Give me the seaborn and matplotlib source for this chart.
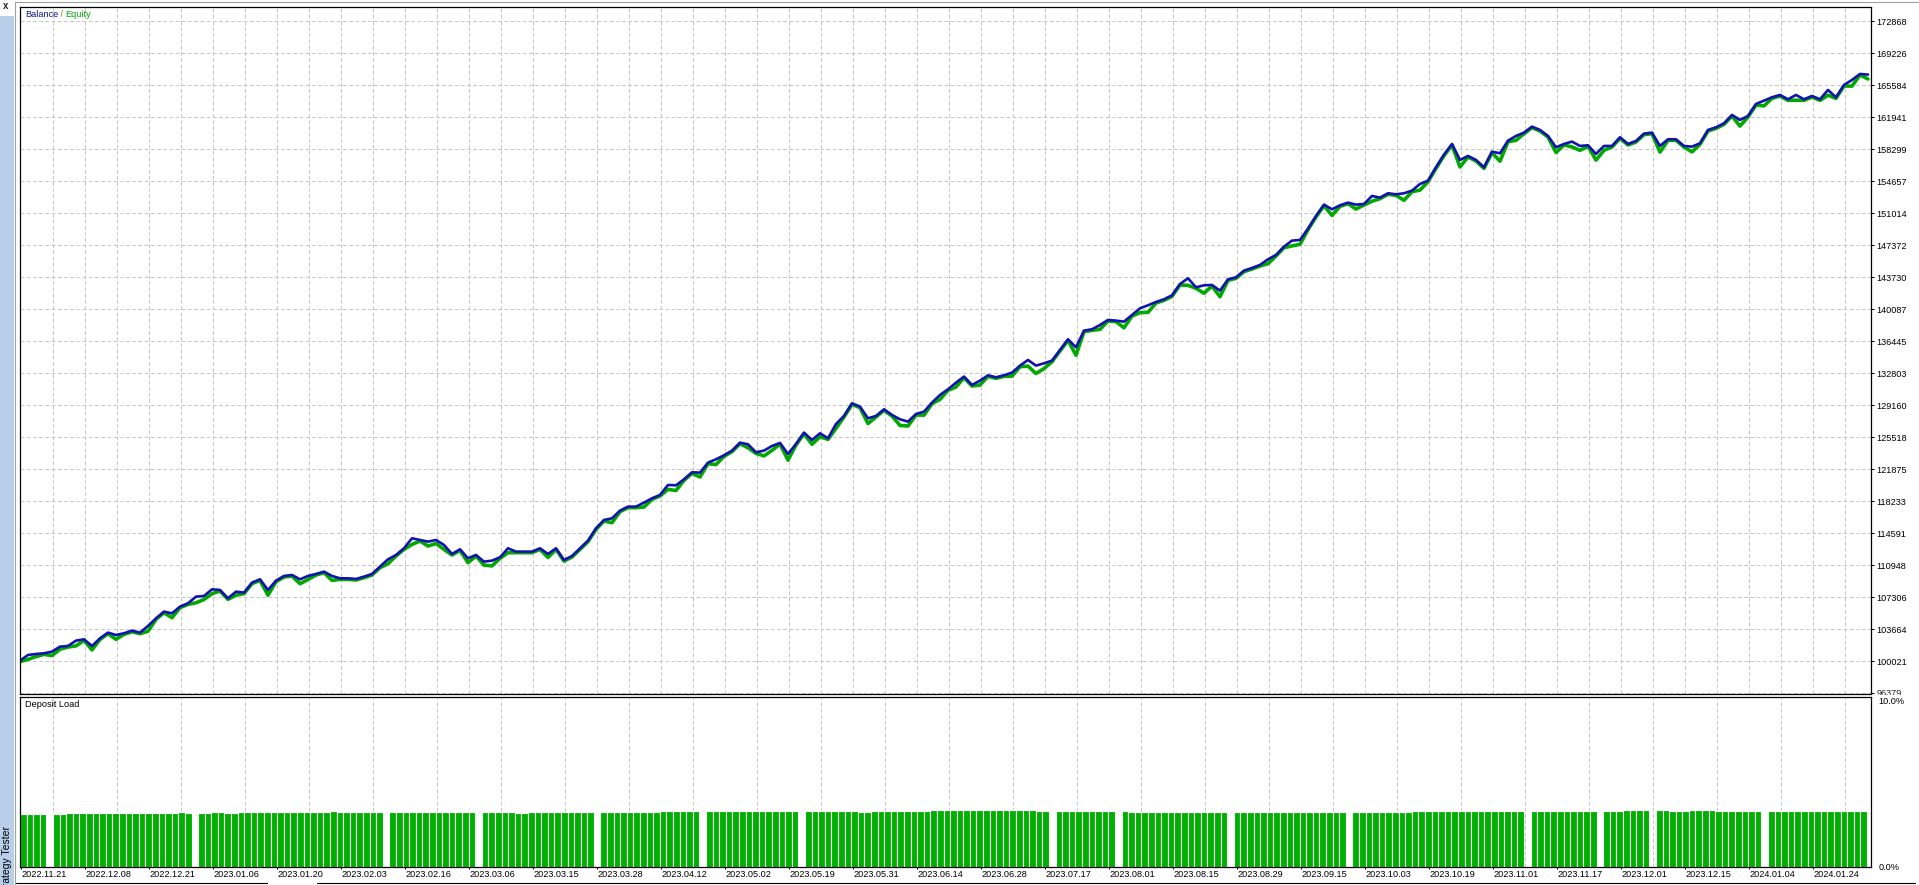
import numpy as np
import matplotlib
matplotlib.use("Agg")
import matplotlib.pyplot as plt
import seaborn as sns
from matplotlib.patches import Rectangle
from matplotlib.lines import Line2D
from matplotlib.transforms import Bbox

#### data

balance = [
    100097, 100742, 100856, 100932, 101121, 101690, 101766, 102373, 102525, 101766,
    102639, 103284, 103018, 103208, 103511, 103284, 104043, 104915, 105674, 105484,
    106243, 106623, 107381, 107457, 108216, 108140, 107192, 107950, 107837, 108975,
    109354, 108140, 109202, 109734, 109847, 109354, 109734, 109961, 110227, 109734,
    109468, 109468, 109392, 109658, 109962, 110796, 111631, 112124, 112883, 114021,
    113831, 113642, 113831, 113262, 112238, 112769, 111745, 112124, 111365, 111479,
    111859, 112883, 112504, 112504, 112504, 112883, 112238, 112883, 111555, 112010,
    112883, 113756, 115159, 116108, 116298, 117170, 117625, 117625, 118081,
    118574, 118954, 120092, 120054, 120737, 121534, 121496, 122634, 123013, 123469,
    124000, 124910, 124721, 123810, 124000, 124531, 124873, 123620, 124759, 126049,
    125214, 125973, 125404, 127035, 127946, 129387, 129008, 127680, 127946, 128704,
    128059, 127566, 127301, 128173, 128439, 129463, 130336, 130981, 131740,
    132423, 131474, 131968, 132575, 132347, 132575, 132878, 133675, 134320, 133675,
    133940, 134244, 135458, 136672, 135762, 137659, 137810, 138304, 138873, 138797,
    138683, 139442, 140201, 140542, 140921, 141225, 141680, 142970, 143615, 142591,
    142818, 142856, 142211, 143501, 143729, 144488, 144791,
    145133, 145778, 146271, 147220, 147903, 147979, 149268, 150710, 152000, 151469,
    151924, 152228, 152000, 152076, 152987, 152797, 153290, 153176, 153290, 153594,
    154352, 154732, 156249, 157691, 158905, 157084, 157539, 157084, 156249, 158033,
    157843, 159285, 159816, 160195, 160878, 160499, 159816, 158526, 158905, 159171,
    158679, 158755, 157768, 158679, 158679, 159665, 158906, 159248, 160082, 160196,
    158679, 159437, 159437, 158679, 158603, 158982, 160500, 160803, 161259, 162207,
    161638, 162093, 163459, 163838, 164218, 164483, 163990, 164483, 163990, 164370,
    163990, 165053, 164218, 165622, 166191, 166874, 166798,
]

# how far equity sits under balance at each step
equity_gap = [
    120, 500, 300, 120, 450, 300, 120, 600, 120, 450, 120, 120, 500, 120, 120, 120, 600, 120, 120, 500,
    120, 120, 700, 400, 500, 120, 120, 400, 120, 120, 120, 600, 120, 120, 120, 500, 400, 120, 120, 500,
    120, 120, 120, 120, 120, 120, 500, 120, 120, 700, 120, 500, 400, 500, 120, 120, 500, 120, 400, 600,
    120, 500, 120, 120, 120, 120, 400, 120, 120, 120, 120, 120, 120, 120, 500, 120, 120, 120, 500, 120,
    120, 500, 600, 120, 120, 500, 120, 600, 120, 120, 120, 400, 120, 600, 500, 120, 700, 120, 120, 500,
    400, 120, 500, 120, 120, 120, 600, 120, 120, 120, 700, 500, 120, 400, 120, 500, 120, 500, 120, 120,
    500, 120, 120, 120, 400, 120, 700, 900, 600, 120, 120, 120, 900, 120, 120, 500, 120, 120, 700, 120,
    500, 800, 120, 120, 120, 120, 800, 120, 900, 120, 700, 120, 120, 120, 120, 120, 500, 120, 120, 600,
    500, 120, 120, 120, 700, 120, 120, 500, 120, 600, 120, 120, 120, 800, 120, 700, 120, 120, 120, 120,
    800, 120, 120, 120, 120, 900, 120, 500, 120, 120, 120, 120, 600, 120, 600, 500, 120, 700, 500, 120,
    120, 120, 120, 120, 120, 700, 120, 120, 120, 600, 120, 120, 120, 120, 120, 700, 120, 120, 600, 120,
    120, 120, 600, 120, 120, 120, 600, 120, 120, 700, 120, 500,
]

# deposit load in percent, one value per bar (0 = no position)
deposit_load = [
    3.10, 3.08, 3.12, 3.12, 0, 3.12, 3.11, 3.13, 3.14, 3.15, 3.16, 3.15, 3.17, 3.15, 3.15, 3.16, 3.18, 3.17, 3.18, 3.18,
    3.18, 3.18, 3.18, 3.18, 3.19, 3.18, 0, 3.18, 3.18, 3.20, 3.20, 3.15, 3.18, 3.20, 3.21, 3.21, 3.20, 3.21, 3.21, 3.22,
    3.22, 3.21, 3.22, 3.22, 3.22, 3.23, 3.22, 3.26, 3.24, 3.22, 3.22, 3.22, 3.20, 3.20, 3.20, 0, 3.20, 3.20, 3.20, 3.19,
    3.20, 3.20, 3.20, 3.20, 3.20, 3.20, 3.20, 3.20, 3.20, 0, 3.20, 3.20, 3.20, 3.20, 3.20, 3.18, 3.18, 3.20, 3.20, 3.20,
    3.20, 3.20, 3.21, 3.22, 3.22, 3.22, 3.20, 0, 3.22, 3.22, 3.22, 3.24, 3.24, 3.23, 3.23, 3.22, 3.22, 3.25, 3.25, 3.25,
    3.25, 3.25, 3.25, 0, 3.25, 3.25, 3.26, 3.26, 3.26, 3.28, 3.28, 3.27, 3.27, 3.26, 3.25, 3.25, 3.25, 3.25, 0, 3.25,
    3.25, 3.25, 3.26, 3.26, 3.26, 3.25, 3.25, 3.24, 3.24, 3.25, 3.25, 3.25, 3.25, 3.28, 3.28, 3.30, 3.30, 3.30, 3.32, 3.32,
    3.33, 3.34, 3.34, 3.36, 3.36, 3.36, 3.35, 3.35, 3.35, 3.34, 3.34, 3.33, 3.32, 3.32, 3.30, 3.30, 0, 3.28, 3.28, 3.27,
    3.27, 3.26, 3.26, 3.25, 3.25, 3.25, 0, 3.25, 3.24, 3.24, 3.24, 3.24, 3.24, 3.23, 3.23, 3.23, 3.23, 3.22, 3.22, 3.22,
    3.22, 3.22, 3.22, 0, 3.22, 3.22, 3.22, 3.21, 3.21, 3.21, 3.20, 3.20, 3.21, 3.21, 3.20, 3.21, 3.21, 3.22, 3.22, 3.22,
    3.22, 0, 3.21, 3.21, 3.22, 3.22, 3.22, 3.22, 3.24, 3.24, 3.24, 3.25, 3.26, 3.26, 3.26, 3.27, 3.27, 3.28, 3.28, 3.28,
    3.28, 3.30, 3.30, 3.30, 3.29, 3.29, 3.29, 3.29, 0, 3.29, 3.29, 3.29, 3.29, 3.28, 3.28, 3.28, 3.28, 3.28, 3.28, 0,
    3.28, 3.29, 3.30, 3.31, 3.31, 3.31, 3.31, 0, 3.31, 3.31, 3.30, 3.30, 3.30, 3.31, 3.31, 3.31, 3.31, 3.29, 3.29, 3.29,
    3.28, 3.28, 3.28, 3.28, 0, 3.28, 3.28, 3.28, 3.28, 3.28, 3.28, 3.28, 3.28, 3.28, 3.28, 3.28, 3.28, 3.28, 3.28, 3.28,
]

price_ticks = [96379, 100021, 103664, 107306, 110948, 114591, 118233, 121875, 125518, 129160, 132803,
               136445, 140087, 143730, 147372, 151014, 154657, 158299, 161941, 165584, 169226, 172868]

date_labels = ["2022.11.21", "2022.12.08", "2022.12.21", "2023.01.06", "2023.01.20", "2023.02.03",
               "2023.02.16", "2023.03.06", "2023.03.15", "2023.03.28", "2023.04.12", "2023.05.02",
               "2023.05.19", "2023.05.31", "2023.06.14", "2023.06.28", "2023.07.17", "2023.08.01",
               "2023.08.15", "2023.08.29", "2023.09.15", "2023.10.03", "2023.10.19", "2023.11.01",
               "2023.11.17", "2023.12.01", "2023.12.15", "2024.01.04", "2024.01.24"]

#### style

sns.set_theme(style="white")
plt.rcParams['font.family'] = ['Liberation Sans', 'DejaVu Sans']

BLUE = '#1212b0'
GREEN = '#00a800'
BAR_GREEN = '#00b000'
GRID = '#c8c8c8'
FS = 6.6

W, H = 1919, 885
fig = plt.figure(figsize=(W / 100, H / 100), dpi=100)
fig.patch.set_facecolor('white')


def px_rect(l, t, r, b):
    return [l / W, 1 - b / H, (r - l) / W, (b - t) / H]


ax = fig.add_axes(px_rect(20, 7, 1871, 694))
ax2 = fig.add_axes(px_rect(20, 697, 1871, 866.5))

STEP = 8  # pixels per balance sample
n_bars = len(deposit_load)
bar_px = 1847 / n_bars


def top_x(px):
    return (px - 20) / STEP


def bot_x(px):
    return (px - 20) / bar_px - 0.5


grid_px = [21.3 + 32 * j for j in range(1, 58)]
label_px = [21.3 + 64 * j for j in range(len(date_labels))]
grid_kw = dict(color=GRID, linewidth=0.72, linestyle=(0, (4, 2.2)))

#### balance / equity panel

idx = np.arange(len(balance))
equity = np.array(balance) - np.array(equity_gap)
sns.lineplot(x=idx, y=equity, ax=ax, color=GREEN, linewidth=2.6, errorbar=None)
sns.lineplot(x=idx, y=balance, ax=ax, color=BLUE, linewidth=1.9, errorbar=None)

ax.set_xlim(0, 1851 / STEP)
ax.set_ylim(96379 - 0.7 * 113.82, 96379 + 686.3 * 113.82)
ax.set_xlabel('')
ax.set_ylabel('')

ax.set_xticks([top_x(p) for p in grid_px], minor=True)
ax.set_xticks([])
ax.grid(axis='x', which='minor', **grid_kw)
ax.yaxis.tick_right()
ax.set_yticks(price_ticks)
ax.set_yticklabels([''] + [str(v) for v in price_ticks[1:]])
ax.grid(axis='y', which='major', **grid_kw)
ax.tick_params(axis='y', which='major', right=True, left=False, length=2.2, width=0.72,
               pad=1.5, labelsize=FS, colors='black')
ax.tick_params(axis='x', which='both', bottom=False, labelbottom=False)
ax.set_facecolor('white')
for s in ax.spines.values():
    s.set_color('black')
    s.set_linewidth(0.9)

# bottom price label is half hidden behind the lower panel
lbl = fig.text(1877 / W, 1 - 694 / H, str(price_ticks[0]), fontsize=FS, ha='left', va='center')
lbl.set_clip_box(Bbox.from_extents(0, H - 695, W, H))
lbl.set_clip_on(True)

t1 = ax.annotate('Balance', xy=(0, 1), xycoords='axes fraction', xytext=(5, -3),
                 textcoords='offset pixels', ha='left', va='top', fontsize=FS, color='#1010a0')
t2 = ax.annotate(' / ', xy=(1, 0), xycoords=t1, ha='left', va='bottom', fontsize=FS, color='#8a7a30')
ax.annotate('Equity', xy=(1, 0), xycoords=t2, ha='left', va='bottom', fontsize=FS, color=GREEN)

#### deposit load panel

ax2.bar(np.arange(n_bars), deposit_load, width=1.0, color=BAR_GREEN,
        edgecolor='white', linewidth=0.8)
ax2.set_xlim(-0.5, 1851 / bar_px - 0.5)
ax2.set_ylim(0, 10)
ax2.set_xticks([bot_x(p) for p in grid_px], minor=True)
ax2.set_xticks([bot_x(p) for p in label_px])
ax2.set_xticklabels(date_labels, ha='left')
ax2.grid(axis='x', which='minor', **grid_kw)
ax2.grid(axis='x', which='major', visible=False)
ax2.grid(axis='y', visible=False)
ax2.tick_params(axis='x', which='major', bottom=True, length=1.5, width=0.72, pad=1.2,
                labelsize=FS, colors='black')
ax2.tick_params(axis='x', which='minor', bottom=False)
ax2.yaxis.tick_right()
ax2.set_yticks([0, 10])
ax2.set_yticklabels(['0.0%', '10.0%'])
ax2.tick_params(axis='y', right=True, left=False, length=0, pad=5.5, labelsize=FS, colors='black')
ax2.get_yticklabels()[1].set_va('top')
ax2.set_facecolor('white')
for s in ax2.spines.values():
    s.set_color('black')
    s.set_linewidth(0.9)
ax2.annotate('Deposit Load', xy=(0, 1), xycoords='axes fraction', xytext=(5, -3),
             textcoords='offset pixels', ha='left', va='top', fontsize=FS, color='black')

#### window chrome around the chart

fig.add_artist(Rectangle((0, 0), 14 / W, 1 - 16 / H, transform=fig.transFigure,
                         facecolor='#b7cfe9', edgecolor='none'))
fig.add_artist(Line2D([15 / W, 15 / W], [0, 1 - 2 / H], transform=fig.transFigure,
                      color='#a0a0a0', linewidth=0.8))
fig.add_artist(Line2D([15 / W, 1], [1 - 2 / H, 1 - 2 / H], transform=fig.transFigure,
                      color='#a0a0a0', linewidth=0.8))
fig.text(6 / W, 1 - 6 / H, 'x', fontsize=7, fontweight='bold', ha='center', va='center')
fig.text(7 / W, 1 - 826 / H, 'Strategy Tester', rotation=90, ha='center', va='top',
         fontsize=7.5, color='black')
for x0, x1 in [(16, 267), (317, 1915)]:
    fig.add_artist(Line2D([x0 / W, x1 / W], [1 - 883 / H, 1 - 883 / H], transform=fig.transFigure,
                          color='black', linewidth=0.8))

fig.savefig('out.png', dpi=100, facecolor='white')
